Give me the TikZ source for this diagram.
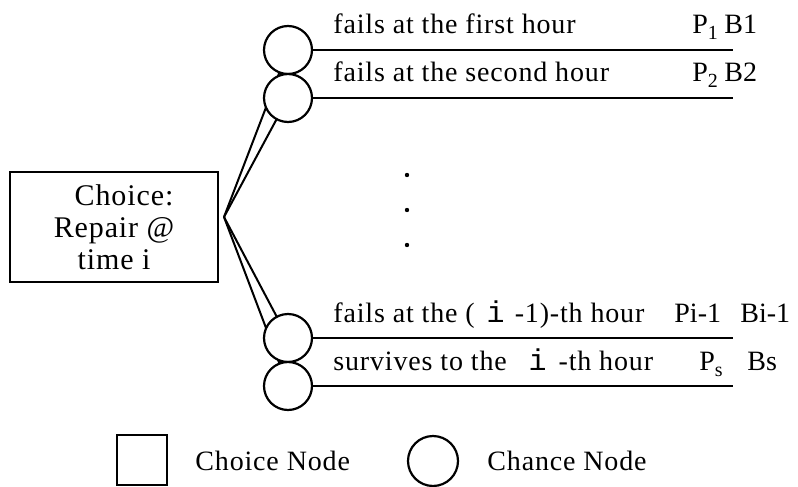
\documentclass[tikz,border=0pt]{standalone}
\usepackage{fontspec}
\setmainfont{Liberation Serif}[LetterSpace=3]
\newfontfamily\imono{Liberation Mono}
\usetikzlibrary{positioning}
\pgfdeclarelayer{background}
\pgfsetlayers{background,main}

\newcommand{\sub}[1]{\raisebox{-3pt}{\fontsize{10}{10}\selectfont #1}}
\newcommand{\ivar}{{\imono\fontsize{15}{16}\selectfont i}}

\tikzset{
  chance/.style={draw, circle, line width=1.1pt, fill=white, minimum size=24pt, inner sep=0pt, outer sep=0pt},
  choicebox/.style={draw, rectangle, line width=1.1pt, align=center, inner sep=0pt},
  branch/.style={line width=1pt},
  lbl/.style={anchor=base west, inner sep=0pt},
  val/.style={lbl, font=\fontsize{14}{16}\selectfont\addfontfeature{LetterSpace=0}}
}

\begin{document}
\begin{tikzpicture}[x=0.5pt, y=-0.5pt, every node/.style={font=\fontsize{14}{16}\selectfont}]
  \useasboundingbox (0,0) rectangle (798,487);

  \node[choicebox, minimum width=104pt, minimum height=55pt,
        font=\fontsize{15}{16}\selectfont] (choice) at (114,227)
    {\hspace*{10pt}Choice:\\ Repair @\\ time i};
  \coordinate (apex) at (224,217);

  \node[chance] (c1) at (288,50) {};
  \node[chance] (c2) at (288,98) {};
  \node[chance] (c3) at (288,338) {};
  \node[chance] (c4) at (288,386) {};

  \coordinate (e1) at (733,50);
  \coordinate (e2) at (733,98);
  \coordinate (e3) at (733,338);
  \coordinate (e4) at (733,386);

  \begin{pgfonlayer}{background}
    \draw[branch] (apex) -- (c1);
    \draw[branch] (apex) -- (c2);
    \draw[branch] (apex) -- (c3);
    \draw[branch] (apex) -- (c4);
  \end{pgfonlayer}

  \draw[branch] (c1) -- (e1);
  \draw[branch] (c2) -- (e2);
  \draw[branch] (c3) -- (e3);
  \draw[branch] (c4) -- (e4);

  \node[lbl] (t1) at (333,33) {fails at the first hour};
  \node[lbl] (t2) at (333,81) {fails at the second hour};
  \node[lbl] (t3) at (333,322) {fails at the (\hspace{6pt}\ivar\hspace{5pt}-1)-th hour};
  \node[lbl] (t4) at (333,370) {survives to the \hspace{7pt}\ivar\hspace{6pt}-th hour};

  \node[val] (p1) at (692,33) {P\sub{1}};
  \node[val] (b1) at (724,33) {B1};
  \node[val] (p2) at (692,81) {P\sub{2}};
  \node[val] (b2) at (724,81) {B2};
  \node[val] (p3) at (674,322) {Pi-1};
  \node[val] (b3) at (740,322) {Bi-1};
  \node[val] (p4) at (699,370) {P\sub{s}};
  \node[val] (b4) at (747,370) {Bs};

  \foreach \y in {175,210,245}
    \fill (407,\y) circle (1.1pt);

  % legend
  \node[draw, line width=1.1pt, minimum size=25pt, inner sep=0pt] (legchoice) at (142,460) {};
  \node[lbl] (legchoicetxt) at (195,470) {Choice Node};
  \node[chance, minimum size=25pt] (legchance) at (433,461) {};
  \node[lbl] (legchancetxt) at (487,470) {Chance Node};
\end{tikzpicture}
\end{document}
